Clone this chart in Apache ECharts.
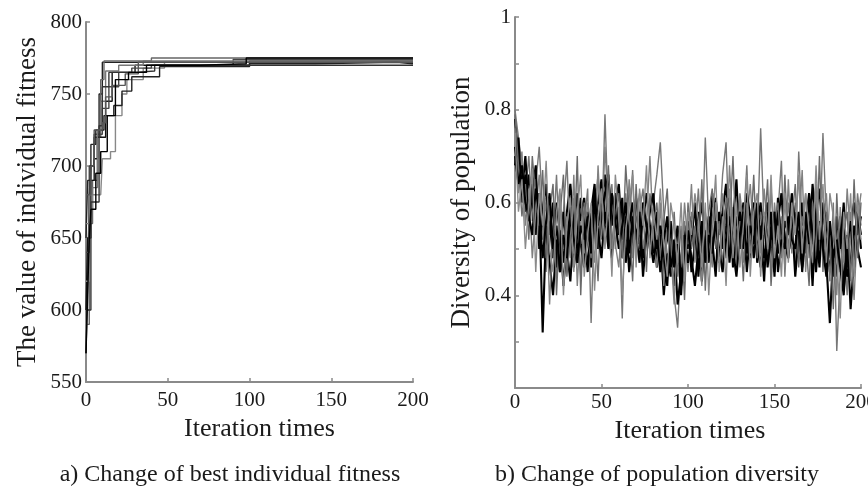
<!DOCTYPE html>
<html><head><meta charset="utf-8">
<script src="https://cdn.jsdelivr.net/npm/echarts@6/dist/echarts.min.js"></script>
<style>html,body{margin:0;padding:0;background:#fff}#c{width:868px;height:488px}</style>
</head><body><div id="c"></div>
<script>
// ---------- Panel a: best individual fitness (step lines, [iteration, fitness]) ----------
const fitXTicks = [0, 50, 100, 150, 200];
const fitYTicks = [550, 600, 650, 700, 750, 800];
const fit1 = [[0,570],[1,620],[2,680],[3,700],[5,720],[8,750],[10,772],[200,772]];
const fit2 = [[0,590],[2,660],[4,690],[7,720],[9,760],[11,773],[40,775],[200,775]];
const fit3 = [[0,600],[1,650],[3,690],[5,705],[7,720],[12,745],[16,765],[30,770],[100,773],[200,773]];
const fit4 = [[0,620],[2,670],[4,680],[9,680],[10,705],[15,710],[18,735],[22,750],[25,760],[35,768],[48,772],[200,772]];
const fit5 = [[0,640],[2,700],[5,722],[8,722],[10,740],[14,755],[20,765],[28,768],[40,770],[90,774],[200,774]];
const fit6 = [[0,650],[1,690],[3,715],[6,725],[11,735],[17,742],[22,752],[28,762],[45,769],[100,771],[140,772],[190,771],[200,771]];
const fit7 = [[0,660],[2,680],[4,685],[7,725],[9,745],[12,766],[20,770],[35,773],[200,773]];
const fit8 = [[0,600],[3,675],[6,675],[8,728],[10,755],[14,765],[30,766],[42,770],[200,770]];
const fit9 = [[0,680],[3,700],[5,725],[10,730],[12,748],[16,756],[24,764],[32,772],[200,772]];
const fit10 = [[0,570],[1,610],[2,650],[3,670],[6,695],[9,710],[13,735],[18,760],[26,765],[37,770],[70,771],[98,775],[200,775]];
const fitSeries = [fit1, fit2, fit3, fit4, fit5, fit6, fit7, fit8, fit9, fit10];

// ---------- Panel b: population diversity, sampled every 2 iterations ----------
const divIterations = Array.from({length: 101}, (_, i) => i * 2);
const divYTicks = [0.4, 0.6, 0.8, 1];
const div1 = [0.78,0.70,0.64,0.58,0.66,0.60,0.55,0.62,0.57,0.50,
0.56,0.48,0.60,0.53,0.47,0.58,0.64,0.55,0.49,0.57,
0.61,0.52,0.46,0.55,0.60,0.65,0.57,0.50,0.58,0.62,
0.55,0.48,0.57,0.63,0.54,0.59,0.51,0.56,0.62,0.55,
0.49,0.58,0.52,0.45,0.54,0.48,0.42,0.51,0.46,0.55,
0.50,0.57,0.48,0.54,0.60,0.52,0.47,0.56,0.61,0.53,
0.58,0.64,0.55,0.49,0.57,0.52,0.60,0.55,0.48,0.56,
0.51,0.46,0.55,0.60,0.52,0.57,0.49,0.54,0.61,0.55,
0.50,0.58,0.52,0.46,0.55,0.62,0.56,0.49,0.53,0.59,
0.51,0.45,0.54,0.48,0.57,0.52,0.46,0.55,0.60,0.53,0.57];
const div2 = [0.80,0.74,0.68,0.62,0.70,0.56,0.64,0.72,0.58,0.45,
0.60,0.52,0.66,0.48,0.58,0.69,0.50,0.61,0.56,0.44,
0.55,0.63,0.34,0.58,0.66,0.52,0.79,0.57,0.64,0.50,
0.59,0.35,0.62,0.54,0.67,0.49,0.58,0.63,0.52,0.60,
0.60,0.66,0.73,0.58,0.47,0.55,0.40,0.33,0.48,0.56,
0.45,0.58,0.52,0.63,0.49,0.74,0.55,0.47,0.60,0.53,
0.66,0.73,0.50,0.59,0.46,0.62,0.55,0.68,0.49,0.57,
0.52,0.76,0.55,0.47,0.63,0.51,0.58,0.69,0.44,0.60,
0.53,0.47,0.71,0.55,0.62,0.48,0.57,0.64,0.50,0.75,
0.56,0.43,0.60,0.28,0.45,0.52,0.40,0.58,0.49,0.62,0.55];
const div3 = [0.72,0.66,0.62,0.70,0.58,0.64,0.53,0.60,0.32,0.55,
0.47,0.40,0.52,0.45,0.58,0.50,0.43,0.55,0.62,0.51,
0.46,0.58,0.52,0.63,0.55,0.60,0.66,0.54,0.48,0.59,
0.64,0.52,0.57,0.45,0.53,0.61,0.56,0.48,0.55,0.50,
0.57,0.46,0.53,0.40,0.49,0.44,0.52,0.38,0.45,0.50,
0.56,0.45,0.51,0.58,0.43,0.54,0.49,0.62,0.55,0.47,
0.53,0.59,0.47,0.56,0.65,0.50,0.58,0.45,0.54,0.60,
0.47,0.55,0.43,0.58,0.50,0.45,0.56,0.62,0.51,0.48,
0.57,0.44,0.53,0.60,0.49,0.56,0.42,0.58,0.63,0.52,
0.47,0.34,0.50,0.44,0.56,0.41,0.53,0.37,0.48,0.58,0.50];
const div4 = [0.76,0.62,0.71,0.55,0.63,0.48,0.58,0.66,0.52,0.61,
0.38,0.55,0.44,0.62,0.50,0.57,0.48,0.66,0.42,0.56,
0.49,0.60,0.55,0.47,0.68,0.53,0.72,0.58,0.63,0.51,
0.46,0.58,0.52,0.65,0.48,0.57,0.62,0.50,0.56,0.70,
0.52,0.46,0.60,0.42,0.55,0.50,0.38,0.54,0.46,0.60,
0.51,0.64,0.47,0.56,0.42,0.58,0.53,0.46,0.60,0.55,
0.62,0.48,0.68,0.54,0.50,0.61,0.47,0.56,0.64,0.52,
0.58,0.49,0.63,0.54,0.45,0.60,0.52,0.57,0.46,0.65,
0.49,0.60,0.54,0.67,0.45,0.58,0.51,0.62,0.47,0.57,
0.62,0.48,0.55,0.40,0.59,0.47,0.63,0.52,0.39,0.56,0.62];
const div5 = [0.68,0.74,0.60,0.66,0.56,0.62,0.68,0.50,0.58,0.64,
0.53,0.60,0.46,0.54,0.42,0.51,0.59,0.46,0.53,0.61,
0.55,0.45,0.58,0.64,0.50,0.57,0.62,0.66,0.55,0.60,
0.53,0.61,0.47,0.55,0.60,0.52,0.58,0.44,0.53,0.58,
0.62,0.50,0.55,0.49,0.42,0.56,0.46,0.51,0.40,0.53,
0.47,0.52,0.60,0.44,0.55,0.49,0.57,0.52,0.44,0.58,
0.50,0.55,0.61,0.46,0.53,0.58,0.50,0.62,0.57,0.48,
0.55,0.60,0.48,0.52,0.58,0.44,0.61,0.50,0.56,0.53,
0.62,0.55,0.48,0.52,0.58,0.51,0.64,0.55,0.46,0.60,
0.55,0.50,0.44,0.57,0.50,0.60,0.44,0.47,0.55,0.50,0.46];
const div6 = [0.79,0.68,0.57,0.64,0.52,0.70,0.61,0.55,0.67,0.48,
0.58,0.64,0.40,0.57,0.66,0.44,0.53,0.49,0.70,0.40,
0.60,0.52,0.48,0.57,0.43,0.62,0.55,0.68,0.50,0.57,
0.62,0.48,0.68,0.56,0.43,0.64,0.50,0.58,0.45,0.62,
0.55,0.60,0.48,0.56,0.63,0.47,0.58,0.44,0.55,0.39,
0.60,0.50,0.55,0.48,0.65,0.41,0.58,0.63,0.50,0.56,
0.46,0.61,0.54,0.70,0.48,0.56,0.43,0.60,0.52,0.66,
0.48,0.58,0.53,0.65,0.42,0.55,0.60,0.48,0.66,0.50,
0.56,0.64,0.46,0.57,0.53,0.42,0.60,0.48,0.70,0.45,
0.58,0.52,0.37,0.62,0.45,0.54,0.58,0.43,0.65,0.48,0.60];
const div7 = [0.70,0.64,0.68,0.60,0.57,0.53,0.63,0.58,0.48,0.56,
0.62,0.50,0.55,0.45,0.53,0.48,0.57,0.52,0.47,0.55,
0.52,0.57,0.49,0.60,0.54,0.48,0.58,0.52,0.62,0.56,
0.50,0.55,0.60,0.49,0.57,0.53,0.47,0.60,0.55,0.52,
0.47,0.53,0.45,0.52,0.57,0.46,0.50,0.55,0.42,0.48,
0.54,0.48,0.42,0.50,0.56,0.47,0.53,0.49,0.56,0.50,
0.45,0.52,0.57,0.50,0.44,0.53,0.58,0.49,0.55,0.51,
0.60,0.52,0.57,0.46,0.53,0.58,0.45,0.52,0.50,0.57,
0.52,0.50,0.58,0.45,0.54,0.60,0.53,0.45,0.56,0.50,
0.44,0.56,0.48,0.52,0.46,0.40,0.51,0.56,0.46,0.58,0.53];
const div8 = [0.75,0.58,0.65,0.50,0.60,0.67,0.45,0.62,0.55,0.69,
0.50,0.45,0.58,0.63,0.40,0.55,0.61,0.45,0.58,0.66,
0.44,0.53,0.60,0.41,0.57,0.63,0.50,0.61,0.44,0.66,
0.57,0.40,0.54,0.60,0.66,0.46,0.63,0.55,0.68,0.48,
0.58,0.52,0.63,0.51,0.44,0.60,0.55,0.47,0.60,0.43,
0.58,0.53,0.62,0.56,0.46,0.60,0.40,0.55,0.66,0.45,
0.57,0.42,0.63,0.48,0.60,0.46,0.55,0.66,0.44,0.58,
0.62,0.44,0.58,0.50,0.66,0.48,0.55,0.44,0.62,0.47,
0.60,0.53,0.66,0.49,0.62,0.54,0.47,0.68,0.52,0.64,
0.47,0.62,0.57,0.48,0.35,0.58,0.50,0.62,0.44,0.60,0.52];
const divSeries = [div1, div2, div3, div4, div5, div6, div7, div8];

const captions = ['a) Change of best individual fitness', 'b) Change of population diversity'];

// ---------- styling ----------
const SERIF = '"Liberation Serif", "Times New Roman", serif';
const axisCol = '#8a8a8a';
const txtCol = '#1a1a1a';
const fitColors = ['#222','#666','#111','#888','#444','#222','#777','#333','#555','#000'];
const divColors = ['#000','#777','#000','#808080','#000','#6a6a6a','#000','#8a8a8a'];

function xAxisCfg(gridIndex, gap, margin, pad) {
  return {
    type: 'value', gridIndex, min: 0, max: 200, interval: 50,
    name: 'Iteration times', nameLocation: 'middle', nameGap: gap,
    nameTextStyle: {fontFamily: SERIF, fontSize: 26, color: txtCol, padding: pad},
    axisLine: {show: true, lineStyle: {color: axisCol, width: 2}},
    axisTick: {show: true, inside: true, length: 4, lineStyle: {color: axisCol, width: 1.5}},
    axisLabel: {fontFamily: SERIF, fontSize: 21, color: txtCol, margin,
      formatter: v => fitXTicks.includes(v) ? String(v) : ''},
    splitLine: {show: false}
  };
}

const chart = echarts.init(document.getElementById('c'), null, {renderer: 'canvas'});
const series = [];
fitSeries.forEach((d, i) => series.push({
  type: 'line', xAxisIndex: 0, yAxisIndex: 0, data: d, step: 'end',
  symbol: 'none', silent: true, animation: false,
  lineStyle: {color: fitColors[i], width: 1.4}
}));
divSeries.forEach((d, i) => series.push({
  type: 'line', xAxisIndex: 1, yAxisIndex: 1,
  data: d.map((v, k) => [divIterations[k], v]),
  symbol: 'none', silent: true, animation: false,
  lineStyle: {color: divColors[i], width: i % 2 ? 1.4 : 2.1}
}));

chart.setOption({
  backgroundColor: '#fff',
  animation: false,
  grid: [
    {left: 86, top: 22, width: 327, height: 360, containLabel: false, outerBoundsMode: 'none'},
    {left: 515, top: 17, width: 346, height: 371, containLabel: false, outerBoundsMode: 'none'}
  ],
  xAxis: [xAxisCfg(0, 30, 8, [0, 0, 0, 20]), xAxisCfg(1, 22, 4, [0, 0, 0, 4])],
  yAxis: [
    {
      type: 'value', gridIndex: 0, min: 550, max: 800, interval: 50,
      name: 'The value of individual fitness', nameLocation: 'middle', nameGap: 45,
      nameTextStyle: {fontFamily: SERIF, fontSize: 27, color: txtCol},
      axisLine: {show: true, lineStyle: {color: axisCol, width: 2}},
      axisTick: {show: true, inside: true, length: 4, lineStyle: {color: axisCol, width: 1.5}},
      axisLabel: {fontFamily: SERIF, fontSize: 21, color: txtCol, margin: 4,
        formatter: v => fitYTicks.includes(v) ? String(v) : ''},
      splitLine: {show: false}
    },
    {
      type: 'value', gridIndex: 1, min: 0.2, max: 1, interval: 0.1,
      name: 'Diversity of population', nameLocation: 'middle', nameGap: 40,
      nameTextStyle: {fontFamily: SERIF, fontSize: 27, color: txtCol},
      axisLine: {show: true, lineStyle: {color: axisCol, width: 2}},
      axisTick: {show: true, inside: true, length: 4, lineStyle: {color: axisCol, width: 1.5}},
      axisLabel: {fontFamily: SERIF, fontSize: 21, color: txtCol, margin: 4,
        formatter: v => {
          const r = Math.round(v * 10) / 10;
          const hit = divYTicks.find(t => Math.abs(t - r) < 1e-9);
          return hit === undefined ? '' : (hit === 1 ? '1' : hit.toFixed(1));
        }},
      splitLine: {show: false}
    }
  ],
  graphic: [
    {type: 'text', x: 230, y: 475,
     style: {text: captions[0], font: '24px ' + SERIF, fill: txtCol, align: 'center', verticalAlign: 'middle'}},
    {type: 'text', x: 657, y: 475,
     style: {text: captions[1], font: '24px ' + SERIF, fill: txtCol, align: 'center', verticalAlign: 'middle'}}
  ],
  series
});
</script></body></html>
